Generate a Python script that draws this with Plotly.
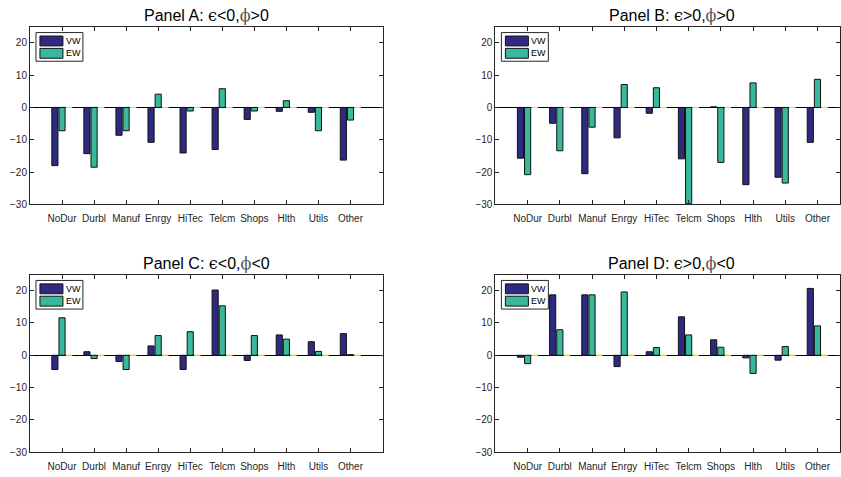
import plotly.graph_objects as go

W, H = 841, 477

industries = ["NoDur", "Durbl", "Manuf", "Enrgy", "HiTec", "Telcm", "Shops", "Hlth", "Utils", "Other"]

panel_titles = [
    "Panel A: <span style='font-family:DejaVu Serif'>\u03f5</span><0,<span style='font-family:DejaVu Serif;fill:#555'>\u03d5</span>>0",
    "Panel B: <span style='font-family:DejaVu Serif'>\u03f5</span>>0,<span style='font-family:DejaVu Serif;fill:#555'>\u03d5</span>>0",
    "Panel C: <span style='font-family:DejaVu Serif'>\u03f5</span><0,<span style='font-family:DejaVu Serif;fill:#555'>\u03d5</span><0",
    "Panel D: <span style='font-family:DejaVu Serif'>\u03f5</span>>0,<span style='font-family:DejaVu Serif;fill:#555'>\u03d5</span><0",
]

# value-weighted (VW) and equal-weighted (EW) responses per industry
vw_a = [-18.0, -14.3, -8.6, -10.8, -14.1, -13.0, -3.7, -1.2, -1.5, -16.3]
ew_a = [-7.2, -18.5, -7.2, 4.1, -1.1, 5.8, -1.1, 2.1, -7.2, -3.9]

vw_b = [-15.7, -4.9, -20.5, -9.4, -1.8, -15.9, 0.2, -23.9, -21.6, -10.8]
ew_b = [-20.8, -13.4, -6.1, 7.1, 6.1, -29.8, -17.0, 7.6, -23.4, 8.7]

vw_c = [-4.4, 1.1, -1.9, 2.9, -4.4, 20.2, -1.6, 6.3, 4.2, 6.7]
ew_c = [11.6, -1.0, -4.4, 6.1, 7.3, 15.3, 6.1, 5.0, 1.2, 0.2]

vw_d = [-0.6, 18.7, 18.7, -3.5, 1.1, 11.9, 4.8, -0.8, -1.5, 20.7]
ew_d = [-2.6, 7.9, 18.7, 19.6, 2.4, 6.3, 2.5, -5.6, 2.7, 9.1]

# third (empty) bar series of the grouped plot
blank = [0.0] * len(industries)

y_ticks = [-30, -20, -10, 0, 10, 20]
y_range = [-30, 25]

VW_COLOR = "#2e2a82"
EW_COLOR = "#38b89c"
BLANK_COLOR = "#e8e020"
AX_COLOR = "#262626"
FONT = "Liberation Sans, Arial, sans-serif"


def px_x(x):
    return x / W


def px_y(y):
    return 1 - y / H


# plot boxes in pixels: (left, right, top, bottom, x-range end)
boxes = [
    (30, 383, 27, 207, 10.0),
    (496, 841, 27, 207, 9.7),
    (30, 383, 278, 458, 10.0),
    (496, 841, 278, 458, 9.7),
]
# full (unclipped) axes width is the same for every panel
full_w = 353

series = [(vw_a, ew_a), (vw_b, ew_b), (vw_c, ew_c), (vw_d, ew_d)]

fig = go.Figure()
annotations = []
shapes = []

for i, ((vw, ew), (left, right, top, bottom, xend), title) in enumerate(zip(series, boxes, panel_titles)):
    k = "" if i == 0 else str(i + 1)
    xa, ya = "x" + k, "y" + k
    for name, vals, col in (("VW", vw, VW_COLOR), ("EW", ew, EW_COLOR), ("", blank, BLANK_COLOR)):
        fig.add_trace(go.Bar(
            x=industries, y=vals, name=name, xaxis=xa, yaxis=ya,
            marker=dict(color=col, line=dict(color="#111111" if name else BLANK_COLOR, width=1)),
            showlegend=False, hoverinfo="x+y",
        ))
    axis_common = dict(
        showline=True, linecolor=AX_COLOR, linewidth=1, mirror="allticks",
        ticks="inside", ticklen=4, tickcolor=AX_COLOR, tickwidth=1,
        showgrid=False, tickfont=dict(family=FONT, size=10, color=AX_COLOR),
    )
    fig.update_layout(**{
        "xaxis" + k: dict(
            domain=[px_x(left), px_x(right)], anchor=ya, type="category",
            categoryorder="array", categoryarray=industries,
            range=[-1, xend], ticklabelstandoff=5, **axis_common,
        ),
        "yaxis" + k: dict(
            domain=[px_y(bottom), px_y(top)], anchor=xa, range=y_range,
            tickvals=y_ticks, zeroline=True, zerolinecolor="#000000", zerolinewidth=1,
            **axis_common,
        ),
    })
    # panel title centred over the full axes box
    annotations.append(dict(
        text=title, xref="paper", yref="paper",
        x=px_x(left + full_w / 2), y=px_y(top - 11), xanchor="center", yanchor="middle",
        showarrow=False, font=dict(family=FONT, size=16, color="#000000"),
    ))
    # legend box in the upper-left corner of each panel
    lx0, lx1 = left + 6, left + 53
    ly0, ly1 = top + 6, top + 35
    shapes.append(dict(type="rect", xref="paper", yref="paper",
                       x0=px_x(lx0), x1=px_x(lx1), y0=px_y(ly0), y1=px_y(ly1),
                       line=dict(color=AX_COLOR, width=1), fillcolor="white"))
    for j, (name, col) in enumerate((("VW", VW_COLOR), ("EW", EW_COLOR))):
        sy0 = ly0 + 3.5 + j * 12.5
        shapes.append(dict(type="rect", xref="paper", yref="paper",
                           x0=px_x(lx0 + 4), x1=px_x(lx0 + 27), y0=px_y(sy0), y1=px_y(sy0 + 10),
                           line=dict(color="#111111", width=1), fillcolor=col))
        annotations.append(dict(
            text=name, xref="paper", yref="paper",
            x=px_x(lx0 + 28), y=px_y(sy0 + 5), xanchor="left", yanchor="middle",
            showarrow=False, font=dict(family=FONT, size=9, color="#000000"),
        ))

fig.update_layout(
    width=W, height=H, margin=dict(l=0, r=0, t=0, b=0),
    paper_bgcolor="white", plot_bgcolor="white",
    barmode="group", bargap=0.333, bargroupgap=0.14,
    annotations=annotations, shapes=shapes,
    font=dict(family=FONT),
)

fig.write_html("out.html")
